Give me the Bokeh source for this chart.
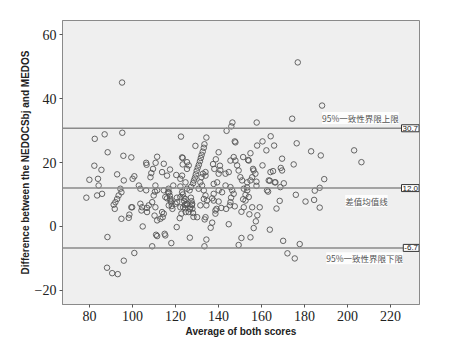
from bokeh.plotting import figure
from bokeh.models import Range1d, Label, Span, FixedTicker
from bokeh.embed import file_html
from bokeh.resources import INLINE

# Bland-Altman data: x = average of both scores, y = difference
avg = [
    95.2, 176.9, 188.2, 174.3, 157.8, 146.5, 146.0, 143.8,
    82.5, 87.1, 95.3, 122.6, 134.4, 164.3, 160.5, 147.6, 176.4, 158.0, 165.9, 129.3, 147.9,
    88.5, 95.8, 99.5, 111.5, 123.4,
    133.5, 133.2, 132.7, 132.2, 131.8, 131.4, 130.9, 130.4, 129.9, 129.5, 129.1, 128.6, 128.2, 127.3,
    140.1, 138.8, 137.5, 140.7, 138.1, 140.9, 140.1, 143.3, 144.8, 134.0,
    151.5, 153.8, 154.9, 162.3, 183.1, 187.6, 203.1, 206.5, 147.1, 147.9, 145.6, 148.7, 149.4,
    150.2, 151.0, 154.1, 156.1, 160.5, 169.0, 175.0, 165.4, 169.6, 169.6, 164.2, 166.5, 163.4,
    162.6, 168.8, 170.4, 166.2, 163.9,
    106.4, 106.6, 110.8, 114.6, 109.6, 117.5, 123.1, 123.4, 125.4, 126.2, 125.4,
    108.8, 108.4, 113.8, 116.1, 120.4, 123.1, 100.1, 100.9, 92.9, 96.0, 84.0, 80.0, 82.3, 85.6, 84.3,
    103.0, 103.7, 106.4, 110.7, 111.5, 110.5, 114.6, 119.0, 122.3, 124.7, 122.3, 125.4, 126.6,
    94.4, 94.9, 85.9, 83.6, 78.6, 123.1, 116.6, 132.1, 132.8, 134.0, 131.6, 132.4, 133.2, 130.8,
    137.8, 139.4, 140.1, 141.7, 137.8, 143.3, 145.6, 146.4, 147.1, 151.8, 153.4, 153.3, 157.7,
    157.7, 153.4, 154.9, 156.4, 155.7, 157.2, 163.1, 189.2, 187.1, 184.8, 176.0, 152.6,
    92.9, 92.1, 91.3, 91.8, 93.6, 99.5, 103.7, 104.5, 106.8, 107.6, 104.2, 106.8, 109.9, 109.2,
    110.7, 115.3, 117.7, 116.9, 116.1, 120.7, 120.0, 122.3, 120.8, 122.3, 124.7, 125.4, 123.6,
    125.1, 126.7, 127.8, 127.0, 126.2, 131.6, 134.0, 133.2, 134.7, 134.4, 138.6, 139.1, 138.6,
    141.3, 143.6, 147.6, 140.1, 137.8, 137.1, 145.9, 145.6, 145.3, 154.1, 152.6, 151.8, 155.7,
    151.5, 159.2, 168.5, 167.0, 180.5, 184.5, 187.1, 150.7, 154.4, 158.1, 99.9,
    116.8, 117.1, 117.4, 117.7, 118.0, 118.3, 118.6,
    123.5, 123.8, 124.1, 124.4, 124.6, 124.8,
    127.2, 127.5, 127.7, 127.9, 128.2, 128.4,
    94.9, 98.3, 98.6, 110.3, 111.5, 113.0, 114.1, 114.6, 113.8, 104.8, 120.6, 122.0, 122.8,
    130.1, 133.6, 134.0, 136.4, 137.1, 144.8, 157.4, 156.4, 163.9,
    111.0, 111.5, 115.0, 115.3, 109.2, 118.1, 88.4, 100.9, 96.0, 88.2, 90.6, 93.2,
    126.7, 134.4, 133.5, 154.9, 150.7, 149.4, 170.1, 177.8, 172.1, 175.5,
]
diff = [
    45.0, 51.3, 37.8, 33.7, 32.5, 32.5, 31.3, 29.9,
    27.4, 28.8, 29.3, 28.1, 27.8, 28.2, 26.6, 26.6, 26.0, 25.3, 25.3, 25.2, 26.3,
    23.2, 22.1, 21.6, 21.8, 21.4,
    25.7, 24.6, 23.4, 22.4, 21.4, 20.4, 19.3, 18.4, 17.4, 16.3, 15.3, 14.4, 13.5, 12.4,
    23.2, 21.0, 19.5, 19.0, 18.0, 17.6, 16.5, 16.5, 17.0, 17.0,
    21.7, 20.8, 22.9, 23.8, 23.5, 22.2, 23.8, 20.1, 21.7, 20.6, 20.6, 19.1, 17.5,
    15.4, 14.4, 20.6, 18.0, 19.1, 18.3, 19.4, 17.3, 21.2, 17.5, 17.0, 13.8, 14.4,
    11.3, 12.3, 13.5, 13.8, 14.3,
    19.9, 19.3, 19.9, 19.6, 18.0, 17.8, 21.6, 19.4, 20.1, 19.1, 18.0,
    16.7, 15.4, 17.0, 15.9, 16.1, 15.9, 14.9, 15.7, 16.3, 14.4, 14.9, 14.6, 19.0, 17.7, 12.8,
    12.8, 11.8, 11.3, 12.8, 11.3, 10.9, 11.3, 12.8, 14.9, 13.8, 12.5, 11.8, 11.3,
    11.8, 10.7, 10.2, 9.7, 9.0, 10.7, 10.7, 15.4, 16.5, 15.9, 13.8, 12.8, 11.3, 11.8,
    13.3, 13.8, 11.3, 10.7, 10.2, 12.8, 12.3, 11.3, 10.2, 11.8, 11.3, 12.2, 12.7,
    14.0, 13.8, 14.4, 17.5, 15.4, 16.5, 10.9, 14.8, 12.1, 11.2, 9.9, 9.9,
    8.6, 7.6, 6.8, 5.5, 9.7, 6.0, 7.1, 6.0, 5.8, 6.6, 5.0, 4.5, 9.7, 7.6,
    6.0, 9.2, 8.1, 6.6, 8.8, 9.0, 7.1, 6.0, 7.6, 9.2, 8.6, 7.1, 6.0,
    6.8, 5.5, 7.1, 6.0, 4.5, 6.6, 9.7, 8.6, 8.1, 6.6, 5.0, 5.5, 4.0,
    5.8, 5.5, 6.3, 7.8, 8.1, 8.8, 9.0, 7.6, 6.6, 9.2, 8.1, 6.0, 6.0,
    8.5, 6.0, 8.0, 5.6, 7.8, 8.3, 5.9, 4.6, 3.8, 3.5, 6.0,
    11.8, 10.6, 9.6, 8.6, 7.5, 6.4, 5.5,
    10.0, 9.0, 7.9, 6.8, 5.7, 4.5,
    9.0, 7.9, 6.7, 5.5, 4.2, 3.0,
    2.4, 2.7, 3.7, 3.4, 1.9, 2.4, 2.9, 4.0, 4.5, 0.0, -0.2, 2.6, 4.0,
    2.9, 2.2, 2.9, -0.4, 1.2, 0.7, 1.6, -0.5, -1.0,
    -2.6, -3.0, -2.3, -2.8, -6.2, -5.2, -3.3, -8.3, -10.7, -12.9, -14.6, -14.9,
    -3.5, -4.1, -6.2, -3.4, -3.6, -5.8, -4.5, -5.5, -8.4, -10.0,
]

# Reference lines: upper limit of agreement, mean difference, lower limit
line_values = [30.7, 12.0, -6.7]
line_value_labels = ["30.7", "12.0", "-6.7"]
line_names = ["95%一致性界限上限", "差值均值线", "95%一致性界限下限"]

x_ticks = [80, 100, 120, 140, 160, 180, 200, 220]
y_ticks = [-20, 0, 20, 40, 60]

p = figure(width=452, height=344, output_backend="svg", toolbar_location=None,
           x_range=Range1d(67.5, 233.5), y_range=Range1d(-24.4, 64.4),
           min_border_left=62, min_border_right=33, min_border_top=20, min_border_bottom=40)

p.background_fill_color = "#efefef"
p.border_fill_color = "white"
p.outline_line_color = "#8a8a8a"
p.outline_line_width = 1
p.xgrid.visible = False
p.ygrid.visible = False

for ax in (p.xaxis[0], p.yaxis[0]):
    ax.axis_line_color = "#8a8a8a"
    ax.major_tick_line_color = "#555555"
    ax.major_tick_out = 3
    ax.major_tick_in = 0
    ax.minor_tick_out = 0
    ax.minor_tick_in = 0
    ax.major_label_text_font = "Liberation Serif"
    ax.major_label_text_font_size = "14px"
    ax.major_label_text_color = "#222222"
    ax.axis_label_text_font = "Liberation Sans"
    ax.axis_label_text_font_size = "10px"
    ax.axis_label_text_font_style = "bold"
    ax.axis_label_text_color = "#222222"

p.xaxis.ticker = FixedTicker(ticks=x_ticks)
p.yaxis.ticker = FixedTicker(ticks=y_ticks)
p.xaxis.axis_label = "Average of both scores"
p.yaxis.axis_label = "Difference between the NEDOCSbj and MEDOS"
p.xaxis.major_label_standoff = 3
p.xaxis.axis_label_standoff = 2
p.yaxis.major_label_standoff = 3
p.yaxis.axis_label_standoff = 1
p.xaxis.major_label_overrides = {t: str(t) for t in x_ticks}
p.yaxis.major_label_overrides = {t: ("\u2212" + str(-t) if t < 0 else str(t)) for t in y_ticks}

for v in line_values:
    p.add_layout(Span(location=v, dimension="width", line_color="#8a8a8a", line_width=1.5))

p.scatter(avg, diff, marker="circle", size=5.5, fill_color=None,
          line_color="#555555", line_width=0.9)

# names of the lines
name_pos = [(206.0, 33.9), (208.8, 8.0), (208.0, -9.9)]
for (lx, ly), txt in zip(name_pos, line_names):
    p.add_layout(Label(x=lx, y=ly, text=txt, text_align="center", text_baseline="middle",
                       text_font="Noto Sans CJK SC", text_font_size="8.5px",
                       text_color="#555555", background_fill_color="white",
                       background_fill_alpha=0.85))

# boxed values at the right edge
for v, t in zip(line_values, line_value_labels):
    p.add_layout(Label(x=233.3, y=v, text=t, text_align="right", text_baseline="middle",
                       text_font="Liberation Sans", text_font_size="8px",
                       text_color="#222222", background_fill_color="white",
                       border_line_color="#333333", border_line_width=1, padding=1))

open("out.html", "w").write(file_html(p, INLINE))
